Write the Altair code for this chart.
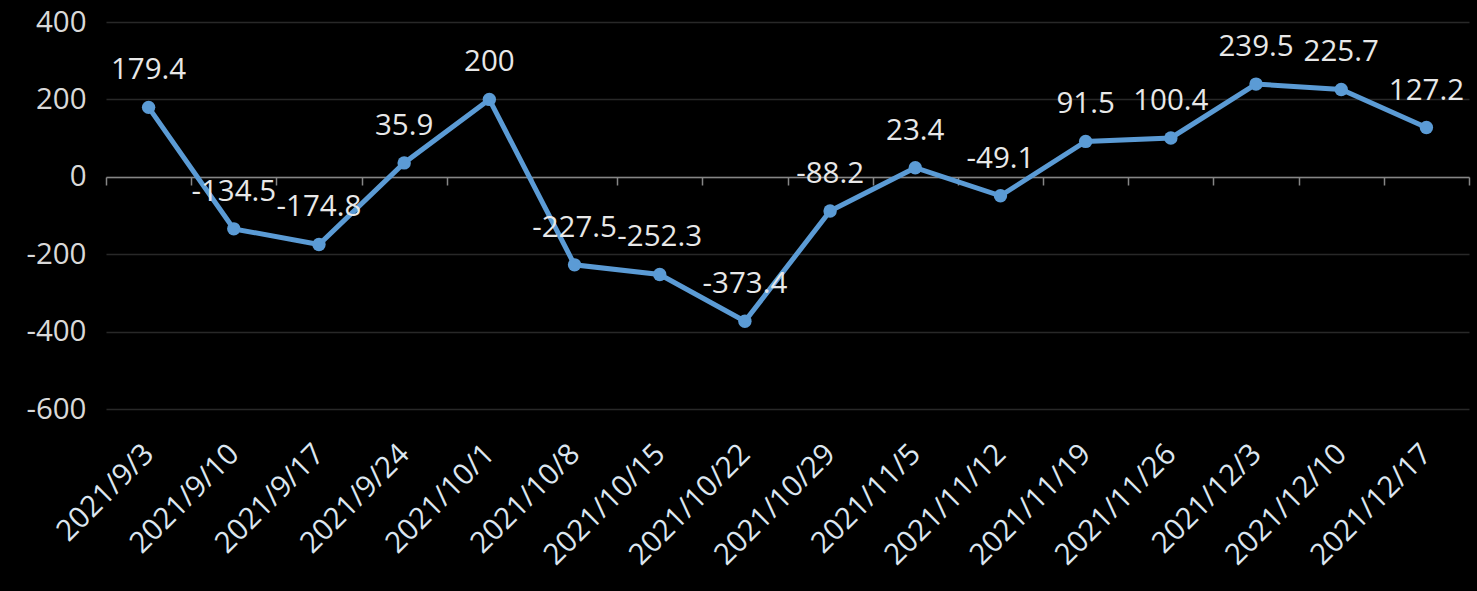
import altair as alt
import pandas as pd

dates = ["2021/9/3", "2021/9/10", "2021/9/17", "2021/9/24", "2021/10/1", "2021/10/8",
         "2021/10/15", "2021/10/22", "2021/10/29", "2021/11/5", "2021/11/12", "2021/11/19",
         "2021/11/26", "2021/12/3", "2021/12/10", "2021/12/17"]
values = [179.4, -134.5, -174.8, 35.9, 200, -227.5, -252.3, -373.4, -88.2, 23.4, -49.1,
          91.5, 100.4, 239.5, 225.7, 127.2]
labels = [f"{v:g}" for v in values]

df = pd.DataFrame({"date": dates, "value": values, "label": labels})

FONT = "Open Sans"
LINE = "#5B9BD5"

x = alt.X("date:N", sort=dates, title=None,
          scale=alt.Scale(type="band", paddingInner=0, paddingOuter=0),
          axis=alt.Axis(orient="bottom", offset=-232, domain=True, domainColor="#868686",
                        domainWidth=1.5, ticks=True, tickColor="#868686", tickWidth=1.5,
                        tickSize=8, tickBand="extent", grid=False, labelAngle=-45,
                        labelAlign="right", labelBaseline="middle", labelPadding=264,
                        labelFont=FONT, labelFontSize=29.5, labelColor="#dce6f0",
                        labelOverlap=False))
y = alt.Y("value:Q", title=None,
          scale=alt.Scale(domain=[-600, 400], nice=False, zero=False),
          axis=alt.Axis(values=[-600, -400, -200, 0, 200, 400], domain=False, ticks=False,
                        grid=True, gridColor="#282828", gridWidth=1.5, labelFont=FONT,
                        labelFontSize=29.5, labelColor="#d9d9d9", labelPadding=20,
                        labelExpr="replace(datum.label, '\u2212', '-')"))

base = alt.Chart(df)
line = base.mark_line(color=LINE, strokeWidth=5).encode(x=x, y=y)
pts = base.mark_point(filled=True, color=LINE, size=180, opacity=1).encode(x=x, y=y)
txt = base.mark_text(dy=-37, font=FONT, fontSize=29.5, color="#e8e8e8",
                     baseline="middle").encode(x=x, y=y, text="label:N")

chart = alt.layer(line, pts, txt).properties(
    width=1363, height=387,
    background="black",
    padding={"left": 106, "top": 22, "right": 8, "bottom": 182},
    autosize=alt.AutoSizeParams(type="none"),
).configure_view(stroke=None)

chart.save("out.html", embed_options={"renderer": "svg", "actions": False})
